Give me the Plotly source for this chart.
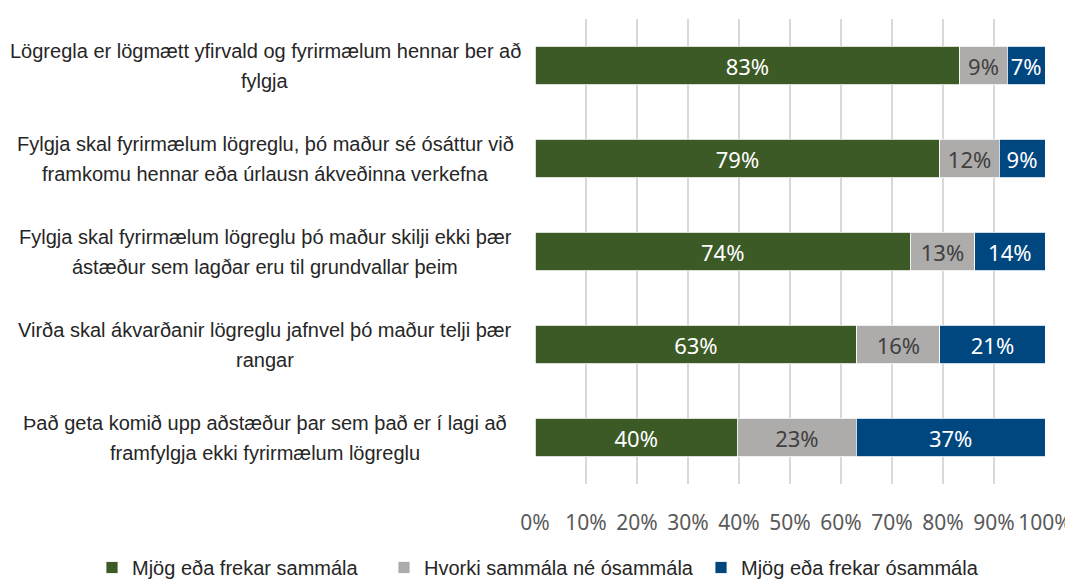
import plotly.graph_objects as go

categories = [
    ["Lögregla er lögmætt yfirvald og fyrirmælum hennar ber að", "fylgja"],
    ["Fylgja skal fyrirmælum lögreglu, þó maður sé ósáttur við", "framkomu hennar eða úrlausn ákveðinna verkefna"],
    ["Fylgja skal fyrirmælum lögreglu þó maður skilji ekki þær", "ástæður sem lagðar eru til grundvallar þeim"],
    ["Virða skal ákvarðanir lögreglu jafnvel þó maður telji þær", "rangar"],
    ["Það geta komið upp aðstæður þar sem það er í lagi að", "framfylgja ekki fyrirmælum lögreglu"],
]
cat_keys = ["q1", "q2", "q3", "q4", "q5"]

series_names = ["Mjög eða frekar sammála", "Hvorki sammála né ósammála", "Mjög eða frekar ósammála"]
agree = [83.3, 79.4, 73.6, 63.1, 39.7]
neutral = [9.3, 11.6, 12.6, 16.3, 23.3]
disagree = [7.4, 9.0, 13.8, 20.6, 37.0]

colors = ["#3c5a26", "#aeabab", "#00467f"]
text_colors = ["#ffffff", "#404040", "#ffffff"]

tick_vals = [0, 10, 20, 30, 40, 50, 60, 70, 80, 90, 100]
tick_text = [f"{v}%" for v in tick_vals]

label_font = "Liberation Sans, Arial, sans-serif"
num_font = "Noto Sans, Open Sans, sans-serif"

legend_ids = ["legend", "legend2", "legend3"]
legend_x = [-0.8686, -0.2961, 0.3255]

fig = go.Figure()
for name, vals, col, tcol, lid in zip(series_names, [agree, neutral, disagree], colors, text_colors, legend_ids):
    fig.add_trace(go.Bar(
        y=cat_keys, x=vals, name=name, orientation="h",
        marker=dict(color=col, line=dict(color="#ffffff", width=0.8)),
        width=0.41,
        text=[f"{round(v):.0f}%" for v in vals],
        textposition="inside", insidetextanchor="middle",
        textfont=dict(family=num_font, size=22, color=tcol),
        hoverinfo="skip",
        legend=lid,
    ))

annotations = []
for key, lines in zip(cat_keys, categories):
    for i, line in enumerate(lines):
        annotations.append(dict(
            x=-0.5294, xref="paper", y=key, yref="y",
            text=line, showarrow=False, xanchor="center", yanchor="middle",
            yshift=15 - 30 * i,
            font=dict(family=label_font, size=20, color="#262626"),
        ))

legend_common = dict(
    orientation="h", xanchor="left", y=-0.1796, yanchor="middle",
    font=dict(family=label_font, size=20, color="#262626"),
    bgcolor="rgba(0,0,0,0)",
)

layout_legends = {}
for lid, lx in zip(legend_ids, legend_x):
    layout_legends[lid] = dict(legend_common, x=lx)

fig.update_layout(
    barmode="stack",
    width=1073, height=580,
    margin=dict(l=527, r=36, t=11, b=103.5, autoexpand=False),
    plot_bgcolor="#ffffff", paper_bgcolor="#ffffff",
    xaxis=dict(
        range=[0, 100], tickvals=tick_vals, ticktext=tick_text,
        showgrid=True, gridcolor="#d9d9d9", gridwidth=2,
        zeroline=False, showline=False,
        tickfont=dict(family=num_font, size=21, color="#595959"),
        ticklabelstandoff=24,
        fixedrange=True,
    ),
    yaxis=dict(
        categoryorder="array", categoryarray=cat_keys, autorange="reversed",
        showticklabels=False, showgrid=False, zeroline=False, showline=False,
        fixedrange=True,
    ),
    annotations=annotations,
    showlegend=True,
    **layout_legends,
)

fig.write_html("out.html")
